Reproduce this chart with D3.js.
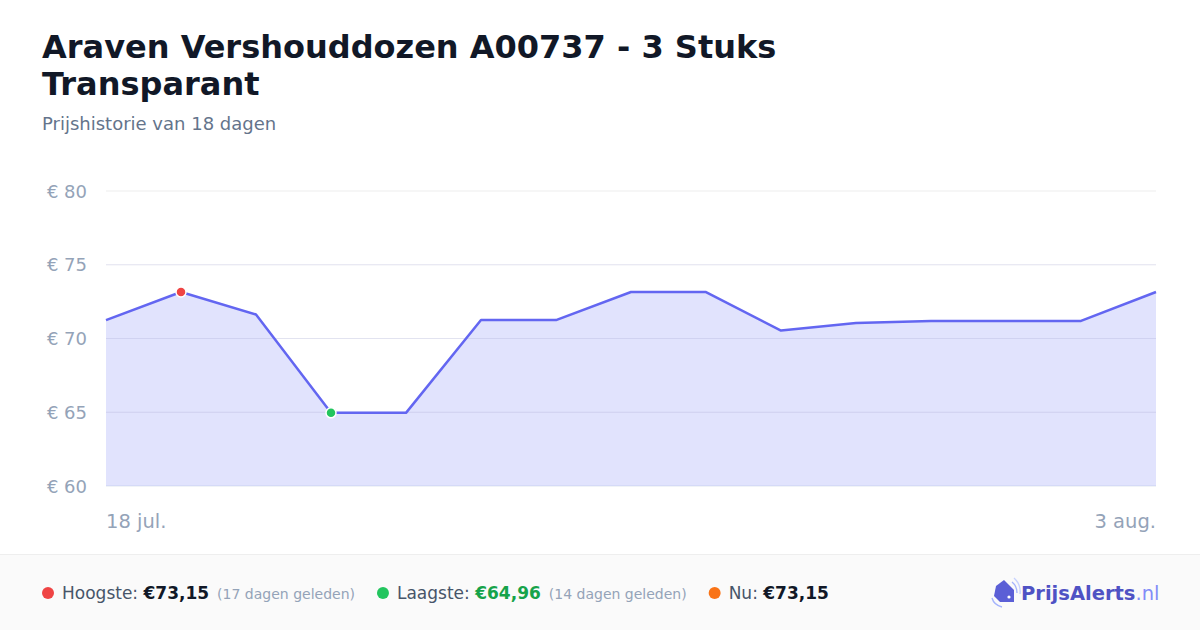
<!DOCTYPE html>
<html>
<head>
<meta charset="utf-8">
<script src="https://cdn.jsdelivr.net/npm/d3@7/dist/d3.min.js"></script>
<style>
  html, body { margin: 0; padding: 0; background: #fff; }
  body { width: 1200px; height: 630px; overflow: hidden; font-family: "DejaVu Sans", sans-serif; }
</style>
</head>
<body>
<svg id="chart" width="1200" height="630"></svg>
<script>
// ---- data ----
const titleLines = ["Araven Vershouddozen A00737 - 3 Stuks", "Transparant"];
const subtitle = "Prijshistorie van 18 dagen";
const dates = ["2024-07-18","2024-07-19","2024-07-20","2024-07-21","2024-07-22","2024-07-23","2024-07-24","2024-07-25","2024-07-26","2024-07-28","2024-07-29","2024-07-30","2024-07-31","2024-08-02","2024-08-03"];
const prices = [71.25, 73.15, 71.63, 64.96, 64.96, 71.25, 71.25, 73.15, 73.15, 70.54, 71.05, 71.19, 71.19, 71.19, 73.15];
const yTicks = [60, 65, 70, 75, 80];
const xTickLabels = ["18 jul.", "3 aug."];
const highIndex = 1;
const lowIndex = 3;
const stats = [
  { label: "Hoogste: ", value: "€73,15", note: "(17 dagen geleden)", dot: "#ef4444", valueColor: "#111827" },
  { label: "Laagste: ", value: "€64,96", note: "(14 dagen geleden)", dot: "#22c55e", valueColor: "#16a34a" },
  { label: "Nu: ", value: "€73,15", note: "", dot: "#f97316", valueColor: "#111827" }
];

// ---- layout ----
const svg = d3.select("#chart");
const pLeft = 106, pRight = 1156, pTop = 191, pBottom = 486;

const x = d3.scalePoint().domain(dates).range([pLeft, pRight]);
const y = d3.scaleLinear().domain([60, 80]).range([pBottom, pTop]);

// title
const title = svg.append("text").attr("x", 42).attr("font-weight", "bold")
  .attr("font-size", 32).attr("fill", "#111827");
titleLines.forEach((t, i) => title.append("tspan").attr("x", 42).attr("y", 58 + i * 37).text(t));
svg.append("text").attr("x", 42).attr("y", 130).attr("font-size", 18).attr("fill", "#64748b").text(subtitle);

// grid
svg.append("g").selectAll("line").data(yTicks).join("line")
  .attr("x1", pLeft).attr("x2", pRight)
  .attr("y1", d => y(d)).attr("y2", d => y(d))
  .attr("stroke", d => d === 60 ? "#e2e8f0" : "#eeeeee").attr("stroke-width", 1.2);

// y labels
svg.append("g").selectAll("text").data(yTicks).join("text")
  .attr("x", 87).attr("y", d => y(d) + 6.5).attr("text-anchor", "end")
  .attr("font-size", 18).attr("fill", "#94a3b8").text(d => "€ " + d);

// area
const area = d3.area().x((d, i) => x(dates[i])).y0(y(60)).y1(d => y(d));
svg.append("path").datum(prices).attr("d", area).attr("fill", "#818cf8").attr("fill-opacity", 0.24);

// grid over area (faint)
svg.append("g").selectAll("line").data(yTicks.filter(d => d !== 60 && d !== 80)).join("line")
  .attr("x1", pLeft).attr("x2", pRight)
  .attr("y1", d => y(d)).attr("y2", d => y(d))
  .attr("stroke", "#c7cbf5").attr("stroke-opacity", 0.3).attr("stroke-width", 1);

// line
const line = d3.line().x((d, i) => x(dates[i])).y(d => y(d));
svg.append("path").datum(prices).attr("d", line).attr("fill", "none")
  .attr("stroke", "#6366f1").attr("stroke-width", 2.5).attr("stroke-linejoin", "round");

// markers
[[highIndex, "#ef4444"], [lowIndex, "#22c55e"]].forEach(([i, c]) => {
  svg.append("circle").attr("cx", x(dates[i])).attr("cy", y(prices[i])).attr("r", 5)
    .attr("fill", c).attr("stroke", "#fff").attr("stroke-width", 1.5);
});

// x labels
svg.append("text").attr("x", pLeft).attr("y", 528).attr("font-size", 19.5).attr("fill", "#94a3b8").text(xTickLabels[0]);
svg.append("text").attr("x", pRight).attr("y", 528).attr("text-anchor", "end").attr("font-size", 19.5).attr("fill", "#94a3b8").text(xTickLabels[1]);

// footer
svg.append("rect").attr("x", 0).attr("y", 554).attr("width", 1200).attr("height", 76).attr("fill", "#fafafa");
svg.append("line").attr("x1", 0).attr("x2", 1200).attr("y1", 554.5).attr("y2", 554.5).attr("stroke", "#eeeeee");

let cx = 48;
const fy = 599;
stats.forEach(s => {
  svg.append("circle").attr("cx", cx).attr("cy", fy - 6).attr("r", 6).attr("fill", s.dot);
  const t = svg.append("text").attr("x", cx + 14).attr("y", fy).attr("font-size", 17);
  t.append("tspan").attr("fill", "#475569").text(s.label);
  t.append("tspan").attr("fill", s.valueColor).attr("font-weight", "bold").text(s.value);
  if (s.note) t.append("tspan").attr("fill", "#94a3b8").attr("font-size", 14).attr("dx", 8).text(s.note);
  const bb = t.node().getBBox();
  cx = bb.x + bb.width + 28;
});

// logo
const lg = svg.append("g").attr("transform", "translate(990,578)");
lg.append("path").attr("d", "M6,8 L14,2 L24,12 L24,24 L10,24 L4,18 Z").attr("fill", "#5b5fd6");
lg.append("circle").attr("cx", 19).attr("cy", 19).attr("r", 1.6).attr("fill", "#fff");
lg.append("path").attr("d", "M22,4 Q27,8 27,15").attr("fill", "none").attr("stroke", "#a5b4fc").attr("stroke-width", 1.4);
lg.append("path").attr("d", "M24,0 Q31,6 30,16").attr("fill", "none").attr("stroke", "#c7d2fe").attr("stroke-width", 1.4);
lg.append("path").attr("d", "M2,20 Q4,27 12,29").attr("fill", "none").attr("stroke", "#a5b4fc").attr("stroke-width", 1.4);
const lt = svg.append("text").attr("x", 1021).attr("y", 600).attr("font-size", 19.5);
lt.append("tspan").attr("fill", "#4f52c4").attr("font-weight", "bold").text("PrijsAlerts");
lt.append("tspan").attr("fill", "#818cf8").text(".nl");
</script>
</body>
</html>
